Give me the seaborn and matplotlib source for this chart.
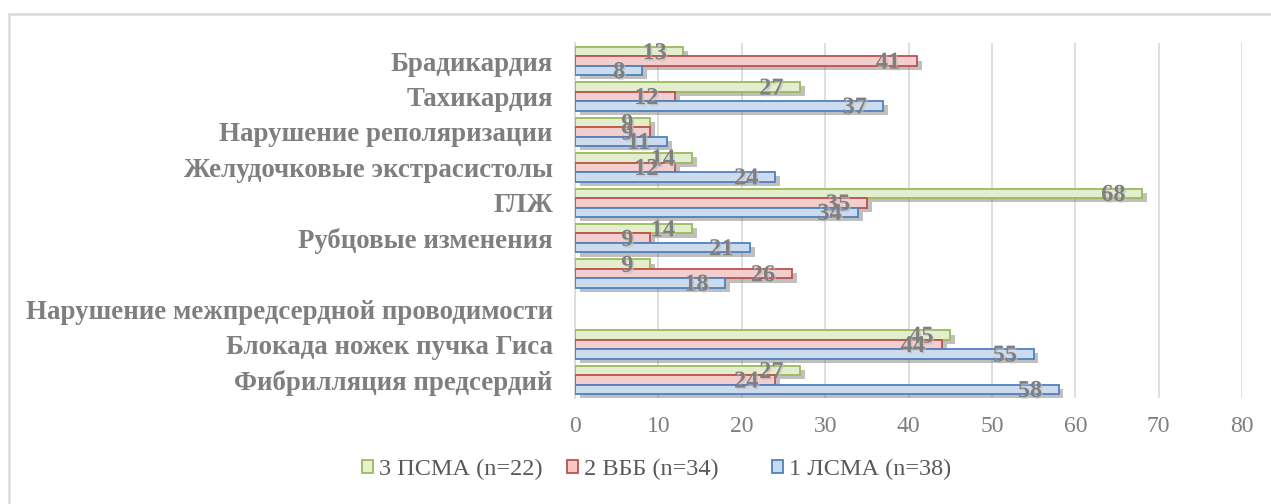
import numpy as np
import pandas as pd
import matplotlib
matplotlib.use("Agg")
import matplotlib.pyplot as plt
import matplotlib.patheffects as pe
from matplotlib.patches import Rectangle, Patch
import seaborn as sns

# Categories top to bottom (one slot has no caption of its own)
categories = [
    "Брадикардия",
    "Тахикардия",
    "Нарушение реполяризации",
    "Желудочковые экстрасистолы",
    "ГЛЖ",
    "Рубцовые изменения",
    " ",
    "Нарушение межпредсердной проводимости",
    "Блокада ножек пучка Гиса",
    "Фибрилляция предсердий",
]
psma = [13, 27, 9, 14, 68, 14, 9, np.nan, 45, 27]
vbb = [41, 12, 9, 12, 35, 9, 26, np.nan, 44, 24]
lsma = [8, 37, 11, 24, 34, 21, 18, np.nan, 55, 58]
series_names = ["3 ПСМА (n=22)", "2 ВББ (n=34)", "1 ЛСМА (n=38)"]
x_ticks = [0, 10, 20, 30, 40, 50, 60, 70, 80]

fills = ["#E4F3C8", "#F8C8C8", "#C8DAF3"]
edges = ["#9BBB59", "#C0504D", "#4F81BD"]

rows = []
for name, vals in zip(series_names, [psma, vbb, lsma]):
    for cat, v in zip(categories, vals):
        rows.append({"category": cat, "series": name, "value": v})
df = pd.DataFrame(rows)

sns.set_theme(style="white")
plt.rcParams["font.family"] = ["Liberation Serif", "DejaVu Serif"]

fig = plt.figure(figsize=(12.71, 5.04), dpi=100)
ax = fig.add_axes([0.4524, 0.211, 0.5248, 0.703])

sns.barplot(
    data=df, x="value", y="category", hue="series",
    order=categories, hue_order=series_names,
    palette=fills, errorbar=None, width=0.8, gap=0,
    dodge=True, legend=False, ax=ax,
)

shadow = [pe.SimplePatchShadow(offset=(3.5, -3), shadow_rgbFace="0.45", alpha=0.45), pe.Normal()]
text_shadow = [pe.withSimplePatchShadow(offset=(1.2, -1.2), shadow_rgbFace="0.75", alpha=0.6)]

for cont, ec in zip(ax.containers, edges):
    for bar in cont:
        bar.set_edgecolor(ec)
        bar.set_linewidth(1.3)
        bar.set_path_effects(shadow)
        bar.set_zorder(3)
        w = bar.get_width()
        if np.isnan(w):
            continue
        yc = bar.get_y() + bar.get_height() / 2
        ax.annotate(
            f"{w:g}", xy=(w, yc), xytext=(-12, -1.5), textcoords="offset points",
            ha="right", va="center", fontsize=17.5, fontweight="bold",
            color="#7F7F7F", zorder=5, path_effects=text_shadow,
        )

ax.set_xlim(0, 80)
ax.set_xticks(x_ticks)
ax.set_xlabel("")
ax.set_ylabel("")
ax.grid(axis="x", color="#D9D9D9", linewidth=1.2, zorder=0)
ax.grid(axis="y", visible=False)
ax.set_axisbelow(True)
for s in ["top", "right", "bottom"]:
    ax.spines[s].set_visible(False)
ax.spines["left"].set_color("#D9D9D9")
ax.spines["left"].set_linewidth(1.2)

ax.tick_params(axis="x", length=0, pad=13, labelsize=17, labelcolor="#7F7F7F")
ax.tick_params(axis="y", length=0, pad=16, labelsize=19.4, labelcolor="#7F7F7F")
for lbl in ax.get_yticklabels():
    lbl.set_fontweight("bold")

# Legend entries laid out in equal-width columns along the bottom
legend_x = [362 / 1271, 567 / 1271, 772 / 1271]
for f, e, name, lx in zip(fills, edges, series_names, legend_x):
    h = Patch(facecolor=f, edgecolor=e, linewidth=1.3)
    leg = fig.legend(
        [h], [name], loc="center left", bbox_to_anchor=(lx, 0.068),
        frameon=False, fontsize=17.5, handlelength=0.45, handleheight=0.45,
        handletextpad=0.25, borderpad=0, borderaxespad=0, labelcolor="#595959",
    )

# Chart frame
fig.patches.append(Rectangle((9 / 1271, -0.1), 1.2, 1 - 14 / 504 + 0.1,
                             transform=fig.transFigure, fill=False,
                             edgecolor="#D9D9D9", linewidth=1.8))

fig.savefig("out.png", dpi=100)
